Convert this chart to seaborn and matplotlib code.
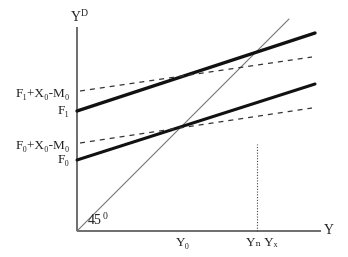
import matplotlib
matplotlib.use("Agg")
import matplotlib.pyplot as plt
import seaborn as sns
import numpy as np
import pandas as pd

# Data (units: arbitrary, origin at axes corner)
x_line = [0, 238]
f0_line = [71, 147]
f1_line = [120, 198]
x_dash = [3, 235]
f0_dash = [88, 123]
f1_dash = [140, 174]
diag_x = [0, 212]
diag_y = [0, 212]
y0_pos = 104
yn_pos = 180
yn_height = 87
x_axis_end = 244
y_axis_end = 204

sns.set_theme(style="white")
plt.rcParams['font.family'] = ['Liberation Serif', 'DejaVu Serif']
plt.rcParams['mathtext.fontset'] = 'custom'
plt.rcParams['mathtext.rm'] = 'Liberation Serif'

fig = plt.figure(figsize=(3.48, 2.57), dpi=100)
ax = fig.add_axes([0, 0, 1, 1])
ax.set_xlim(-77, 271)
ax.set_ylim(-26, 231)
ax.axis('off')

# axes
ax.plot([0, x_axis_end], [0, 0], color='#555555', lw=1.2, solid_capstyle='butt')
ax.plot([0, 0], [0, y_axis_end], color='#555555', lw=1.2, solid_capstyle='butt')

# 45 degree line
sns.lineplot(x=diag_x, y=diag_y, ax=ax, color='#777777', lw=0.8)

# thick lines
sns.lineplot(x=x_line, y=f0_line, ax=ax, color='#111111', lw=2.2)
sns.lineplot(x=x_line, y=f1_line, ax=ax, color='#111111', lw=2.4)

# dashed lines
sns.lineplot(x=x_dash, y=f0_dash, ax=ax, color='#333333', lw=0.9, linestyle=(0, (4, 4)))
sns.lineplot(x=x_dash, y=f1_dash, ax=ax, color='#333333', lw=0.9, linestyle=(0, (4, 4)))

# vertical dotted line
ax.plot([yn_pos, yn_pos], [0, yn_height], color='#444444', lw=0.8, linestyle=(0, (1, 1.5)))

fs = 9.5
ax.text(-7, f1_dash[0] - 3, "F₁+X₀-M₀", ha='right', va='center', fontsize=fs, color='#222222')
ax.text(-7, f1_line[0], "F₁", ha='right', va='center', fontsize=fs, color='#222222')
ax.text(-7, f0_dash[0] - 3, "F₀+X₀-M₀", ha='right', va='center', fontsize=fs, color='#222222')
ax.text(-7, f0_line[0], "F₀", ha='right', va='center', fontsize=fs, color='#222222')
ax.text(2, y_axis_end + 2, r"Y$^{\mathrm{D}}$", ha='center', va='bottom', fontsize=fs + 0.5, color='#222222')
ax.text(x_axis_end + 3, 0, "Y", ha='left', va='center', fontsize=fs + 0.5, color='#222222')
ax.text(y0_pos + 2, -6, "Y₀", ha='center', va='top', fontsize=fs, color='#222222')
ax.text(yn_pos + 5, -6, "Yₙ Yₓ", ha='center', va='top', fontsize=fs, color='#222222')
ax.text(10, 3, r"45$^{\,0}$", ha='left', va='bottom', fontsize=fs + 0.5, color='#222222')

fig.savefig("out.png", dpi=100)
